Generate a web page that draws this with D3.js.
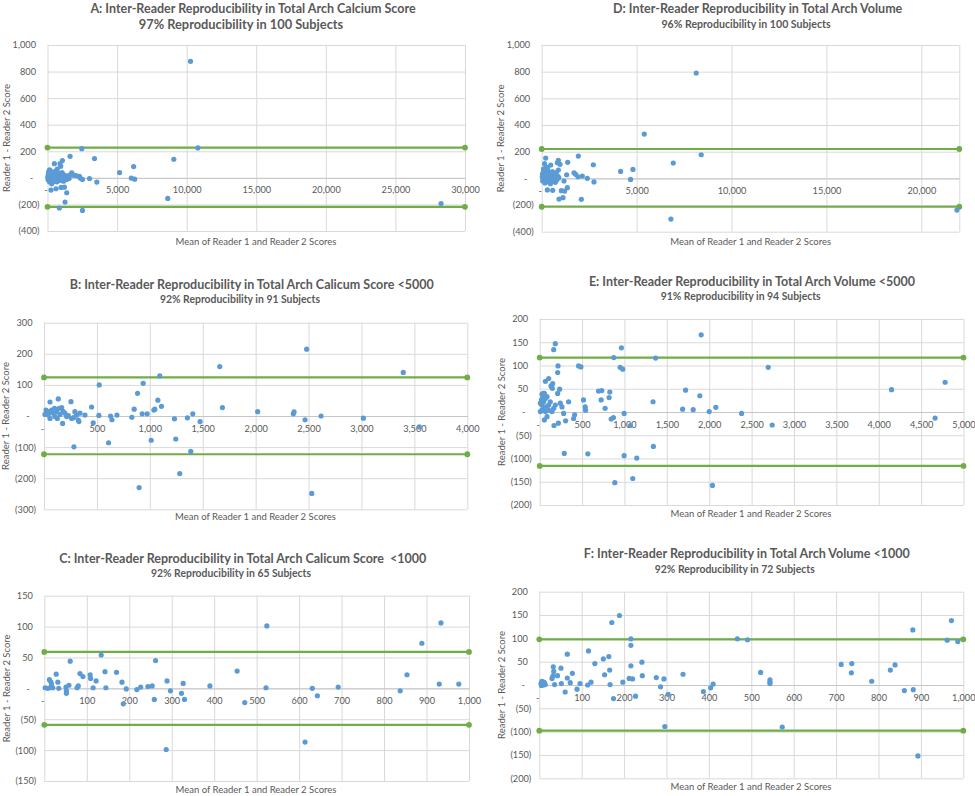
<!DOCTYPE html>
<html><head><meta charset="utf-8">
<script src="https://cdn.jsdelivr.net/npm/d3@7"></script>
<style>body{margin:0;background:#fff} svg{display:block}</style>
</head><body>
<svg id="c" width="975" height="796"></svg>
<script>
// ---------- DATA ----------
const aTitle = "A: Inter-Reader Reproducibility in Total Arch Calcium Score";
const aSubtitle = "97% Reproducibility in 100 Subjects";
const aXTicks = [0,5000,10000,15000,20000,25000,30000];
const aYTicks = [-400,-200,0,200,400,600,800,1000];
const aLimits = [228,-218];
const aPoints = [
 [10277,877],[2464,220],[10805,225],[1623,162],[3377,145],[9075,140],[493,107],[901,107],[1070,130],[950,87],
 [6190,85],[5180,40],[6022,-2],[6262,-10],[3017,-5],[3546,-32],[252,-92],[613,-82],[974,-72],[1214,-70],
 [1382,-112],[1262,-182],[853,-227],[2512,-245],[8642,-155],[28278,-193],
 [20,5],[40,-15],[60,25],[80,45],[100,-5],[120,15],[140,-30],[160,35],[180,0],[200,55],[220,-20],[240,10],
 [260,30],[280,-10],[300,20],[330,-35],[360,5],[390,40],[420,-15],[450,15],[480,-25],[510,30],[540,0],[570,50],
 [600,-10],[640,20],[680,-30],[720,10],[760,35],[800,-5],[840,15],[880,-20],[920,25],[960,5],[1000,-15],[1050,40],
 [1100,10],[1150,-25],[1200,20],[1300,0],[1380,-12],[1450,15],[1550,-5],[1650,25],[1743,37],[1850,20],[2055,17],
 [2296,12],[2344,-2],[2512,-12],[700,65],[300,-45],[150,60]
];

const dTitle = "D: Inter-Reader Reproducibility in Total Arch Volume";
const dSubtitle = "96% Reproducibility in 100 Subjects";
const dXTicks = [0,5000,10000,15000,20000];
const dYTicks = [-400,-200,0,200,400,600,800,1000];
const dLimits = [220,-213];
const dPoints = [
 [8140,790],[5404,332],[8404,177],[6930,115],[4158,52],[4807,67],[4684,-8],[6807,-305],[21874,-238],[1930,167],
 [2719,102],[2754,-27],[2088,-157],[1368,120],[1316,27],[877,135],[965,105],[210,152],[474,100],[298,-87],
 [579,-90],[1035,-92],[1210,-95],[1350,-70],[912,-155],[1123,-145],[2404,0],[1702,42],[1789,30],[2140,17],
 [1912,12],[1175,-20],[737,42],[649,22],[824,117],[877,62],
 [30,10],[50,-20],[70,40],[90,70],[110,-10],[130,25],[150,110],[170,-35],[190,55],[210,5],[230,85],[250,-15],
 [270,30],[290,60],[310,-25],[340,15],[370,45],[400,-5],[430,20],[460,-40],[490,35],[520,0],[560,50],[600,-15],
 [640,25],[680,10],[720,-30],[760,40],[800,-10],[850,15],[900,5],[40,30],[80,-5],[120,55],[160,15],[200,-25],
 [240,35],[280,0],[320,80],[360,-10]
];

const bTitle = "B: Inter-Reader Reproducibility in Total Arch Calicum Score <5000";
const bSubtitle = "92% Reproducibility in 91 Subjects";
const bXTicks = [0,500,1000,1500,2000,2500,3000,3500,4000];
const bYTicks = [-300,-200,-100,0,100,200,300];
const bLimits = [124,-123];
const bPoints = [
 [1661,159],[1686,27],[1094,129],[937,105],[884,73],[522,100],[1076,51],[1047,22],[1038,19],[1110,31],
 [852,22],[928,7],[975,7],[830,-4],[450,29],[465,-22],[519,2],[629,0],[642,-12],[689,3],
 [610,-86],[1013,-78],[1245,-74],[1233,-9],[1355,-6],[1406,7],[1475,-18],[1387,-114],[1283,-185],[899,-230],
 [283,-99],[255,46],[135,55],[57,45],
 [2482,215],[3395,140],[2019,14],[2356,7],[2363,13],[2467,-12],[2618,0],[3018,-7],[3547,-35],[2530,-249],
 [9,5],[25,14],[41,3],[57,-8],[72,19],[88,9],[104,-2],[120,14],[145,25],[167,27],[176,-24],[198,9],
 [230,1],[261,-8],[292,14],[308,3],[324,-13],[330,-18],[340,9],[387,3],[214,-2],[151,5],[126,-8],[50,14],
 [19,19],[100,25],[180,15],[280,-5]
];

const eTitle = "E: Inter-Reader Reproducibility in Total Arch Volume <5000";
const eSubtitle = "91% Reproducibility in 94 Subjects";
const eXTicks = [0,500,1000,1500,2000,2500,3000,3500,4000,4500,5000];
const eYTicks = [-200,-150,-100,-50,0,50,100,150,200];
const eLimits = [117,-116];
const ePoints = [
 [1905,166],[964,138],[874,117],[1368,116],[949,96],[980,92],[184,147],[165,134],[216,99],[212,85],
 [459,99],[486,97],[106,72],[67,66],[153,61],[133,56],[149,51],[235,49],[212,40],[694,45],
 [733,46],[827,43],[819,31],[725,26],[517,26],[341,22],[1337,22],[1721,47],[1889,35],[1686,6],
 [1811,5],[2000,1],[2078,10],[772,8],[537,11],[541,4],[996,-3],[843,-15],[870,-12],[1070,-29],
 [412,-6],[400,-14],[306,-19],[282,-3],[220,-24],[169,-29],[55,-17],[86,-10],[290,-89],[568,-90],
 [996,-94],[1145,-99],[1341,-74],[886,-152],[1098,-143],[2038,-158],
 [2696,96],[2382,-3],[2743,-28],[4151,48],[4783,64],[4665,-13],
 [8,1],[27,4],[47,8],[27,15],[47,22],[67,29],[86,33],[39,40],[8,19],[78,11],[106,4],[145,1],
 [165,8],[184,15],[125,22],[106,15],[67,1],[20,26],[35,31],[55,40],[243,19],[263,11],[27,38]
];

const cTitle = "C: Inter-Reader Reproducibility in Total Arch Calicum Score  <1000";
const cSubtitle = "92% Reproducibility in 65 Subjects";
const cXTicks = [0,100,200,300,400,500,600,700,800,900,1000];
const cYTicks = [-150,-100,-50,0,50,100,150];
const cLimits = [59,-59];
const cPoints = [
 [134,54],[61,44],[262,45],[28,23],[32,10],[12,14],[15,11],[17,7],[2,1],[8,0],
 [13,1],[20,1],[34,0],[51,2],[52,-8],[52,-4],[58,5],[77,1],[80,4],[84,24],
 [91,19],[108,22],[109,16],[115,1],[122,12],[143,27],[145,1],[170,26],[183,10],[186,-25],
 [193,-1],[218,-2],[227,2],[244,3],[254,4],[259,-18],[289,12],[297,-4],[323,-8],[327,8],
 [330,-18],[390,4],[287,-99],[454,28],[472,-23],
 [524,101],[522,1],[631,0],[643,-12],[692,2],[614,-87],[838,-4],[854,22],[889,73],[934,106],
 [930,7],[976,7]
];

const fTitle = "F: Inter-Reader Reproducibility in Total Arch Volume <1000";
const fSubtitle = "92% Reproducibility in 72 Subjects";
const fXTicks = [0,100,200,300,400,500,600,700,800,900,1000];
const fYTicks = [-200,-150,-100,-50,0,50,100,150,200];
const fLimits = [98,-98];
const fPoints = [
 [189,149],[171,134],[216,99],[216,85],[66,66],[116,73],[131,46],[151,56],[164,61],[242,49],
 [216,41],[166,32],[154,22],[243,20],[33,39],[34,29],[43,20],[51,36],[78,25],[66,15],
 [30,14],[32,19],[73,5],[52,3],[36,1],[61,-15],[89,-9],[96,3],[114,0],[122,6],
 [167,1],[175,-29],[197,6],[212,14],[220,13],[227,-24],[276,16],[294,13],[286,-4],[304,-20],
 [296,-89],[339,23],[387,-14],[404,-6],[410,2],
 [4,3],[6,8],[9,0],[12,5],[14,1],[5,-1],[10,6],
 [467,99],[491,97],[522,27],[544,11],[544,3],[544,6],[573,-90],[712,44],[737,46],[736,26],
 [784,8],[828,32],[839,43],[861,-12],[882,-10],[881,118],[972,138],[962,96],[987,93],[893,-152]
];

const xAxisTitle = "Mean of Reader 1 and Reader 2 Scores";
const yAxisTitle = "Reader 1 - Reader 2 Score";

// ---------- LAYOUT ----------
const panels = [
 {title:aTitle, sub:aSubtitle, pts:aPoints, lim:aLimits, xt:aXTicks, yt:aYTicks, xMax:30000,
  box:{l:47.5,r:465,t:45,b:231}, tX:253, tY:12.5, sX:241, sY:29, subSize:12.8, xtX:256, xtY:245, ytX:6.5},
 {title:dTitle, sub:dSubtitle, pts:dPoints, lim:dLimits, xt:dXTicks, yt:dYTicks, xMax:22000,
  box:{l:541.7,r:959.3,t:45,b:231.7}, tX:757.7, tY:13, sX:746, sY:27.8, subSize:10.6, xtX:750.7, xtY:245, ytX:500.7},
 {title:bTitle, sub:bSubtitle, pts:bPoints, lim:bLimits, xt:bXTicks, yt:bYTicks, xMax:4000,
  box:{l:44,r:467.3,t:322.7,b:509.3}, tX:251.7, tY:288.8, sX:240, sY:303, subSize:10.4, xtX:255.5, xtY:520, ytX:5.5},
 {title:eTitle, sub:eSubtitle, pts:ePoints, lim:eLimits, xt:eXTicks, yt:eYTicks, xMax:5000,
  box:{l:539.7,r:963.5,t:319,b:505}, tX:752, tY:285.5, sX:740.7, sY:300.3, subSize:10.4, xtX:751, xtY:516.5, ytX:502},
 {title:cTitle, sub:cSubtitle, pts:cPoints, lim:cLimits, xt:cXTicks, yt:cYTicks, xMax:1000,
  box:{l:44.3,r:469,t:595.7,b:781}, tX:242.8, tY:562.8, sX:231, sY:577, subSize:10.4, xtX:256, xtY:793.3, ytX:6.3},
 {title:fTitle, sub:fSubtitle, pts:fPoints, lim:fLimits, xt:fXTicks, yt:fYTicks, xMax:1000,
  box:{l:539.3,r:963.3,t:591.7,b:778.3}, tX:746.8, tY:558.2, sX:734.8, sY:573, subSize:10.4, xtX:751, xtY:790, ytX:502}
];

const FONT = "Lato, 'Open Sans', sans-serif";
const TXT = "#595959";
const GRID = "#d9d9d9";
const BLUE = "#5b9bd5";
const GREEN = "#70ad47";
const comma = d3.format(",");
const acct = v => v === 0 ? "-" : (v < 0 ? "(" + comma(-v) + ")" : comma(v));

const svg = d3.select("#c").style("font-family", FONT);

panels.forEach(p => {
  const {l, r, t, b} = p.box;
  const x = d3.scaleLinear().domain([0, p.xMax]).range([l, r]);
  const y = d3.scaleLinear().domain([p.yt[0], p.yt[p.yt.length - 1]]).range([b, t]);
  const g = svg.append("g");

  // horizontal gridlines + y labels
  const ya = g.append("g").attr("transform", `translate(${l},0)`)
    .call(d3.axisLeft(y).tickValues(p.yt).tickSize(-(r - l)).tickPadding(8).tickFormat(acct));
  ya.select(".domain").remove();
  ya.selectAll(".tick line").attr("stroke", GRID).attr("stroke-width", 1);
  ya.selectAll(".tick text")
    .attr("fill", TXT).style("font-size", "9.2px").style("font-family", FONT)
    .attr("x", d => d === 0 ? -16 : (d < 0 ? -8 : -11.5))
    .attr("text-anchor", d => d === 0 ? "middle" : "end");

  // vertical gridlines
  const xg = g.append("g").attr("transform", `translate(0,${b})`)
    .call(d3.axisBottom(x).tickValues(p.xt.indexOf(p.xMax) < 0 ? p.xt.concat([p.xMax]) : p.xt)
      .tickSize(-(b - t)).tickFormat(""));
  xg.select(".domain").remove();
  xg.selectAll(".tick line").attr("stroke", GRID).attr("stroke-width", 1);

  // zero axis with labels
  const xa = g.append("g").attr("transform", `translate(0,${y(0)})`)
    .call(d3.axisBottom(x).tickValues(p.xt).tickSize(0).tickPadding(9).tickFormat(acct));
  xa.select(".domain").attr("stroke", "#c6c6c6").attr("stroke-width", 1);
  xa.selectAll(".tick text")
    .attr("fill", TXT).style("font-size", "9.2px").style("font-family", FONT)
    .attr("dx", d => d === 0 ? -2 : 0);

  // limit lines
  p.lim.forEach(v => {
    g.append("line").attr("x1", x(0)).attr("x2", x(p.xMax)).attr("y1", y(v)).attr("y2", y(v))
      .attr("stroke", GREEN).attr("stroke-width", 2.2);
    g.selectAll(null).data([0, p.xMax]).enter().append("circle")
      .attr("cx", d => x(d)).attr("cy", y(v)).attr("r", 2.9).attr("fill", GREEN);
  });

  // points
  g.append("g").selectAll("circle").data(p.pts).enter().append("circle")
    .attr("cx", d => x(d[0])).attr("cy", d => y(d[1])).attr("r", 2.6).attr("fill", BLUE);

  // titles
  g.append("text").attr("x", p.tX).attr("y", p.tY).attr("text-anchor", "middle")
    .attr("fill", TXT).style("font-size", "12.5px").style("font-weight", "bold")
    .style("white-space", "pre").text(p.title);
  g.append("text").attr("x", p.sX).attr("y", p.sY).attr("text-anchor", "middle")
    .attr("fill", TXT).style("font-size", p.subSize + "px").style("font-weight", "bold").text(p.sub);
  g.append("text").attr("x", p.xtX).attr("y", p.xtY).attr("text-anchor", "middle")
    .attr("fill", TXT).style("font-size", "9.5px").text(xAxisTitle);
  g.append("text").attr("transform", `translate(${p.ytX},${(t + b) / 2}) rotate(-90)`)
    .attr("text-anchor", "middle").attr("dy", "0.35em")
    .attr("fill", TXT).style("font-size", "9.5px").text(yAxisTitle);
});
</script>
</body></html>
